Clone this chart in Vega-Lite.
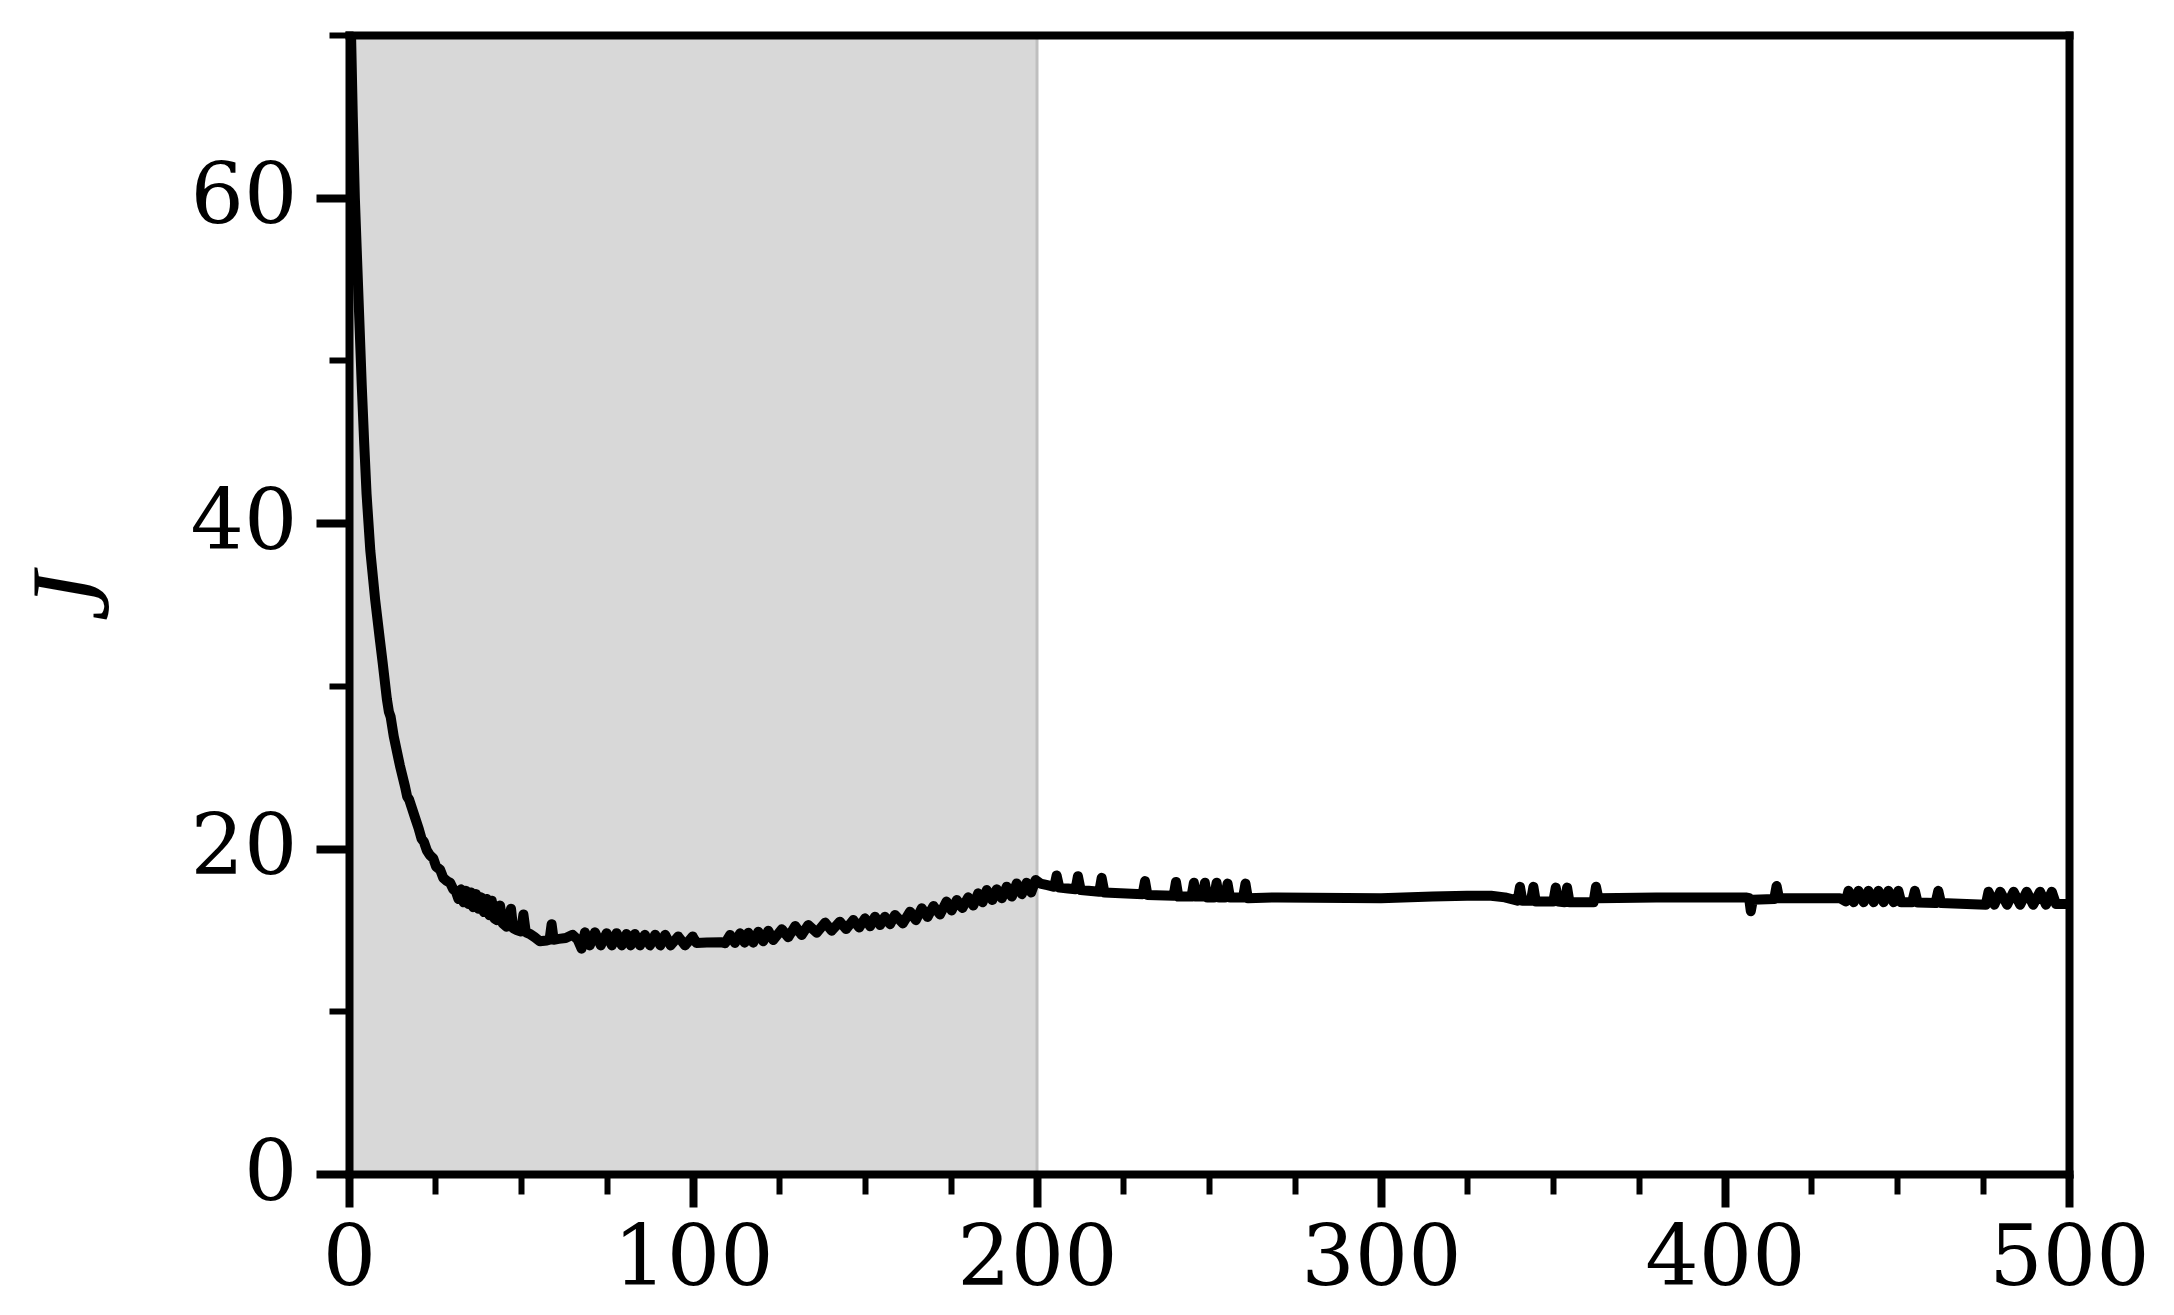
{
"$schema": "https://vega.github.io/schema/vega-lite/v6.json",
"width": 1720, "height": 1139,
"autosize": "none",
"padding": {"left": 349, "top": 35, "right": 105, "bottom": 141},
"background": "white",
"config": {"view": {"stroke": null}, "axis": {"grid": false, "domainColor": "black", "tickColor": "black", "labelColor": "black"}},
"datasets": {
"span": [{"start": 0, "end": 200}],
"curve": [
{"t":0,"J":74},{"t":0.6,"J":70},{"t":1.1,"J":65},{"t":1.7,"J":60},{"t":2.3,"J":56.5},{"t":3.0,"J":52.5},{"t":3.7,"J":48.5},{"t":4.4,"J":45},{"t":5.1,"J":41.8},{"t":6.2,"J":38.3},{"t":7.6,"J":35.3},{"t":9.0,"J":32.8},{"t":9.8,"J":31.4},{"t":11.0,"J":29.2},{"t":11.6,"J":28.4},{"t":12.1,"J":28.1},{"t":13.0,"J":26.9},{"t":14.8,"J":25.1},{"t":16.3,"J":23.8},{"t":16.9,"J":23.2},{"t":17.5,"J":23.0},{"t":19.2,"J":21.9},{"t":20.3,"J":21.2},{"t":21.1,"J":20.6},{"t":21.8,"J":20.4},{"t":22.6,"J":19.9},{"t":23.5,"J":19.6},{"t":24.5,"J":19.4},{"t":25.3,"J":18.9},{"t":26.5,"J":18.7},{"t":27.4,"J":18.2},{"t":28.5,"J":18.0},{"t":29.4,"J":17.9},{"t":30.3,"J":17.5},
{"t":31.0,"J":17.4},{"t":31.8,"J":16.9},{"t":32.6,"J":17.5},{"t":33.3,"J":16.7},{"t":34.0,"J":17.4},{"t":34.7,"J":16.6},{"t":35.4,"J":17.3},{"t":36.1,"J":16.4},{"t":36.9,"J":17.2},{"t":37.6,"J":16.3},{"t":38.4,"J":17.0},{"t":39.2,"J":16.1},{"t":40.0,"J":16.9},{"t":40.8,"J":15.9},{"t":41.5,"J":16.8},{"t":42.3,"J":15.7},{"t":43.0,"J":15.6},{"t":43.9,"J":16.5},{"t":44.7,"J":15.4},{"t":45.8,"J":15.2},{"t":47.1,"J":16.3},{"t":47.7,"J":15.1},{"t":48.7,"J":15.0},{"t":50.0,"J":14.9},{"t":50.7,"J":15.95},{"t":51.4,"J":14.85},{"t":52.6,"J":14.75},{"t":54.0,"J":14.55},{"t":55.5,"J":14.3},{"t":57.5,"J":14.35},{"t":58.3,"J":14.4},{"t":58.9,"J":15.35},{"t":59.5,"J":14.4},{"t":61,"J":14.45},{"t":63,"J":14.5},{"t":65,"J":14.7},{"t":66.5,"J":14.4},{"t":67.6,"J":13.85},{"t":68.6,"J":14.85},{"t":70.0,"J":14.05},{"t":71.5,"J":14.85},{"t":73.2,"J":14.05},{"t":74.9,"J":14.8},{"t":76.4,"J":14.05},{"t":77.8,"J":14.8},{"t":79.3,"J":14.05},{"t":80.7,"J":14.75},{"t":81.9,"J":14.05},{"t":83.1,"J":14.75},{"t":84.6,"J":14.05},{"t":86,"J":14.7},{"t":87.5,"J":14.05},{"t":89,"J":14.7},{"t":90.5,"J":14.05},{"t":91.9,"J":14.7},{"t":93.5,"J":14.05},{"t":95.7,"J":14.6},{"t":97.7,"J":14.05},{"t":99.9,"J":14.6},{"t":101,"J":14.2},{"t":104,"J":14.23},{"t":108,"J":14.25},
{"t":109.3,"J":14.18},{"t":110.8,"J":14.69},{"t":112.2,"J":14.2},{"t":113.7,"J":14.79},{"t":115,"J":14.22},{"t":116.1,"J":14.83},{"t":117.5,"J":14.22},{"t":119,"J":14.89},{"t":120.4,"J":14.3},{"t":121.9,"J":14.95},{"t":123.3,"J":14.38},{"t":125.8,"J":15.04},{"t":127.7,"J":14.55},{"t":129.7,"J":15.24},{"t":131.6,"J":14.69},{"t":133.5,"J":15.3},{"t":136,"J":14.83},{"t":138.4,"J":15.45},{"t":140.3,"J":14.95},{"t":142.7,"J":15.51},{"t":144.5,"J":15.05},{"t":146.6,"J":15.61},{"t":148.3,"J":15.15},{"t":150,"J":15.71},{"t":151.5,"J":15.22},{"t":152.9,"J":15.81},{"t":154.4,"J":15.3},{"t":155.8,"J":15.81},{"t":157.3,"J":15.35},{"t":158.7,"J":15.92},{"t":161,"J":15.4},{"t":163.1,"J":16.12},{"t":164.8,"J":15.6},{"t":166.5,"J":16.33},{"t":168.2,"J":15.8},{"t":169.9,"J":16.47},{"t":171.8,"J":15.95},{"t":173.7,"J":16.74},{"t":175.2,"J":16.2},{"t":176.7,"J":16.84},{"t":178.3,"J":16.35},{"t":180,"J":17.0},{"t":181.5,"J":16.5},{"t":182.9,"J":17.25},{"t":184.2,"J":16.7},{"t":185.4,"J":17.45},{"t":187.0,"J":16.84},{"t":188.3,"J":17.5},{"t":189.8,"J":16.95},{"t":191.2,"J":17.66},{"t":192.7,"J":17.05},{"t":194.1,"J":17.86},{"t":195.6,"J":17.2},{"t":197,"J":17.9},{"t":198.3,"J":17.3},{"t":199.6,"J":18.07},
{"t":201,"J":17.85},{"t":203,"J":17.75},{"t":205,"J":17.65},{"t":205.7,"J":18.35},{"t":206.5,"J":17.6},{"t":209,"J":17.55},{"t":211.2,"J":17.5},{"t":211.9,"J":18.3},{"t":212.7,"J":17.45},{"t":218.1,"J":17.35},{"t":218.8,"J":18.2},{"t":219.6,"J":17.3},{"t":224.3,"J":17.25},{"t":230.7,"J":17.2},{"t":231.4,"J":18.0},{"t":232.1,"J":17.15},{"t":239.7,"J":17.1},{"t":240.4,"J":17.95},{"t":241.1,"J":17.05},{"t":244.9,"J":17.05},{"t":245.6,"J":17.9},{"t":246.3,"J":17.05},{"t":248.1,"J":17.05},{"t":248.8,"J":17.9},{"t":249.5,"J":17.0},{"t":251.5,"J":17.0},{"t":252.2,"J":17.9},{"t":252.9,"J":17.0},{"t":254.7,"J":17.0},{"t":255.4,"J":17.85},{"t":256.1,"J":17.0},{"t":259.9,"J":17.0},{"t":260.6,"J":17.85},{"t":261.3,"J":16.95},{"t":270,"J":17.0},{"t":300,"J":16.95},{"t":315,"J":17.05},{"t":325,"J":17.1},{"t":332,"J":17.1},{"t":336,"J":17.0},{"t":339.7,"J":16.8},{"t":340.4,"J":17.65},{"t":341.1,"J":16.8},{"t":343.6,"J":16.8},{"t":344.3,"J":17.65},{"t":345,"J":16.75},{"t":350.1,"J":16.75},{"t":350.8,"J":17.6},{"t":351.5,"J":16.75},{"t":353.4,"J":16.7},{"t":354.1,"J":17.6},{"t":354.8,"J":16.7},{"t":361.8,"J":16.7},{"t":362.5,"J":17.65},{"t":363.2,"J":16.95},{"t":380,"J":17.0},{"t":406,"J":17.0},{"t":407.0,"J":16.95},{"t":407.5,"J":16.15},{"t":408.1,"J":16.85},{"t":414.3,"J":16.9},{"t":415,"J":17.7},{"t":415.7,"J":16.95},{"t":433.4,"J":16.95},{"t":435.1,"J":16.75},{"t":435.9,"J":17.4},{"t":437.4,"J":16.7},{"t":438.8,"J":17.4},{"t":440.3,"J":16.7},{"t":441.7,"J":17.4},{"t":443.2,"J":16.7},{"t":444.6,"J":17.4},{"t":446.1,"J":16.7},{"t":447.5,"J":17.4},{"t":449.0,"J":16.7},{"t":450.4,"J":17.4},{"t":451.2,"J":16.7},{"t":454.4,"J":16.7},{"t":455.2,"J":17.4},{"t":456.0,"J":16.68},{"t":461.2,"J":16.65},{"t":462.0,"J":17.4},{"t":462.8,"J":16.65},{"t":475.8,"J":16.55},{"t":476.6,"J":17.35},{"t":478.3,"J":16.55},{"t":480,"J":17.35},{"t":482.0,"J":16.55},{"t":483.9,"J":17.35},{"t":485.8,"J":16.55},{"t":487.7,"J":17.35},{"t":489.6,"J":16.55},{"t":491.6,"J":17.35},{"t":493.3,"J":16.55},{"t":495,"J":17.35},{"t":496.2,"J":16.6},{"t":500,"J":16.6}
]
},
"layer": [
{"data": {"name": "span"},
 "mark": {"type": "rect", "fill": "#d8d8d8", "stroke": "#bfbfbf", "strokeWidth": 3},
 "encoding": {
  "x": {"field": "start", "type": "quantitative", "scale": {"domain": [0, 500], "nice": false, "zero": false},
        "axis": {"orient": "top", "zindex": 1, "domain": true, "domainWidth": 8, "domainCap": "square", "ticks": false, "labels": false, "title": null}},
  "x2": {"field": "end"},
  "y": {"datum": 0, "type": "quantitative", "scale": {"domain": [0, 70], "nice": false, "zero": false},
        "axis": {"orient": "right", "zindex": 1, "domain": true, "domainWidth": 8, "domainCap": "square", "ticks": false, "labels": false, "title": null}},
  "y2": {"datum": 70}
 }},
{"data": {"name": "curve"},
 "mark": {"type": "line", "opacity": 0},
 "encoding": {
  "x": {"field": "t", "type": "quantitative", "scale": {"domain": [0, 500], "nice": false, "zero": false},
        "axis": {"orient": "bottom", "zindex": 1, "values": [25, 50, 75, 125, 150, 175, 225, 250, 275, 325, 350, 375, 425, 450, 475], "domain": false, "tickSize": 20, "tickWidth": 6, "labels": false, "title": null}},
  "y": {"field": "J", "type": "quantitative", "scale": {"domain": [0, 70], "nice": false, "zero": false},
        "axis": {"orient": "left", "zindex": 1, "values": [10, 30, 50, 70], "domain": false, "tickSize": 20, "tickWidth": 6, "labels": false, "title": null}}
 }},
{"data": {"name": "curve"},
 "mark": {"type": "line", "clip": true, "stroke": "black", "strokeWidth": 10, "strokeJoin": "round", "strokeCap": "round"},
 "encoding": {
  "x": {"field": "t", "type": "quantitative", "scale": {"domain": [0, 500], "nice": false, "zero": false},
        "axis": {"orient": "bottom", "zindex": 1, "values": [0, 100, 200, 300, 400, 500], "domainWidth": 8, "domainCap": "square", "tickSize": 33, "tickWidth": 8, "labelFont": "DejaVu Serif", "labelFontSize": 84, "labelPadding": 11, "labelFlush": false, "labelOverlap": false, "labelBound": false, "title": null}},
  "y": {"field": "J", "type": "quantitative", "scale": {"domain": [0, 70], "nice": false, "zero": false},
        "axis": {"orient": "left", "zindex": 1, "values": [0, 20, 40, 60], "domainWidth": 8, "domainCap": "square", "tickSize": 33, "tickWidth": 8, "labelFont": "DejaVu Serif", "labelFontSize": 84, "labelPadding": 19, "labelFlush": false, "labelOverlap": false, "labelBound": false,
                 "title": "J", "titleFont": "Liberation Serif", "titleFontStyle": "italic", "titleFontWeight": "normal", "titleFontSize": 112, "titleColor": "black", "titleAngle": -90, "titleAlign": "center", "titleBaseline": "middle", "titleX": -276, "titleY": 561}}
 }}
],
"resolve": {"axis": {"x": "independent", "y": "independent"}}
}
